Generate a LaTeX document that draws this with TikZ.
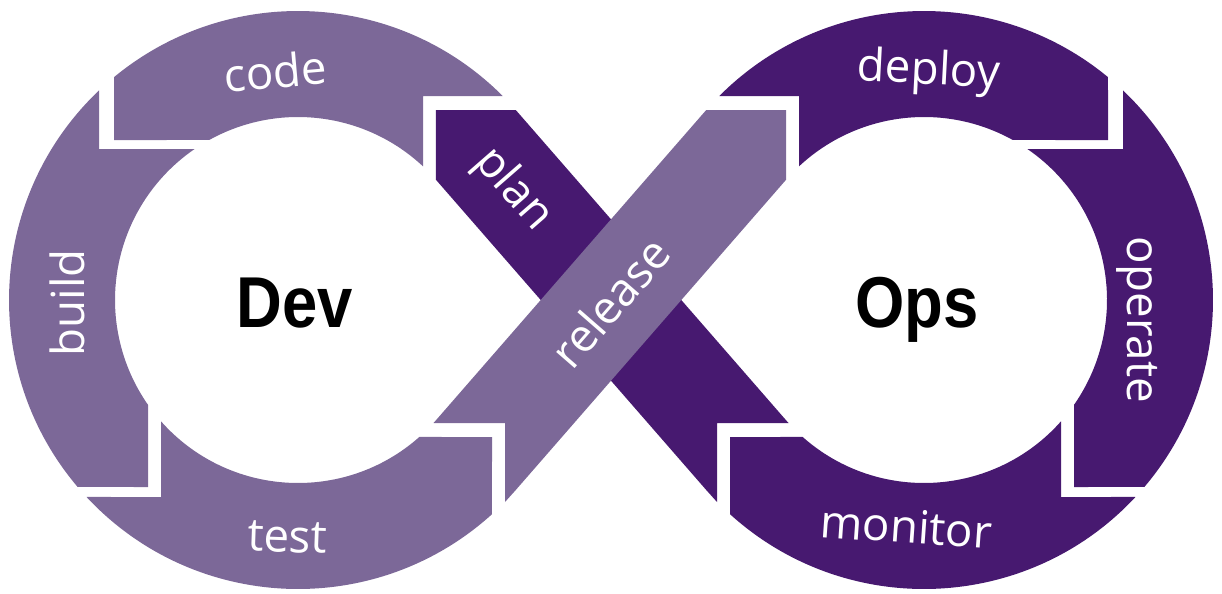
\documentclass[tikz,border=0pt]{standalone}
\usepackage{fontspec}
\setmainfont{Open Sans}
\newfontfamily\headfont{Liberation Sans}
\usetikzlibrary{calc}
\definecolor{devpurple}{RGB}{124,104,152}
\definecolor{opspurple}{RGB}{71,25,112}

\begin{document}
\begin{tikzpicture}[x=0.02cm, y=0.02cm,
        devseg/.style={fill=devpurple},
        opsseg/.style={fill=opspurple},
        stage/.style={text=white, inner sep=0pt, font=\fontsize{26}{30}\selectfont},
        hub/.style={text=black, inner sep=0pt, xscale=.88, font=\headfont\bfseries\fontsize{41}{45}\selectfont}]
            \useasboundingbox (0,0) rectangle (1222,593);
            \coordinate (DevCenter) at (298,293);
            \coordinate (OpsCenter) at (924,293);

            % plan band goes under the release band
            \fill[opsseg] (435.96,482.87) -- (515.88,482.87) -- (786.04,172.77) -- (788.5,170) -- (717,170) -- (717,91) -- (706.12,103.13) -- (435.96,413.23) -- cycle;% plan

            \begin{scope}[shift={(DevCenter)}]
                \fill[devseg] (125,204) -- (44.9:289) arc[start angle=44.9, end angle=129.54, radius=289] -- (-184,160) -- (119.03:183) arc[start angle=119.03, end angle=46.91, radius=183] -- cycle;% code
                \fill[devseg] (-199,151) -- (133.52:289) arc[start angle=133.52, end angle=220.31, radius=289] -- (-150,-187) -- (214.95:183) arc[start angle=214.95, end angle=124.4, radius=183] -- cycle;% build
                \fill[devseg] (-137,-197) -- (222.97:289) arc[start angle=222.97, end angle=312.16, radius=289] -- (194,-137) -- (311.53:183) arc[start angle=311.53, end angle=221.53, radius=183] -- cycle;% test
            \end{scope}

            \begin{scope}[shift={(OpsCenter)}]
                \fill[opsseg] (-125,204) -- (135.1:289) arc[start angle=135.1, end angle=50.46, radius=289] -- (184,160) -- (60.97:183) arc[start angle=60.97, end angle=133.09, radius=183] -- cycle;% deploy
                \fill[opsseg] (199,151) -- (46.48:289) arc[start angle=46.48, end angle=-40.31, radius=289] -- (150,-187) -- (-34.95:183) arc[start angle=-34.95, end angle=55.6, radius=183] -- cycle;% operate
                \fill[opsseg] (137,-197) -- (-42.97:289) arc[start angle=-42.97, end angle=-132.16, radius=289] -- (-194,-137) -- (-131.53:183) arc[start angle=-131.53, end angle=-41.53, radius=183] -- cycle;% monitor
            \end{scope}

            \fill[devseg] (505,170) -- (433.5,170) -- (435.96,172.77) -- (706.12,482.87) -- (786.04,482.87) -- (786.04,413.23) -- (515.88,103.13) -- (505,91) -- cycle;% release

            \node[stage, anchor=base, rotate=5] (CodeLabel) at (277,505) {code};
            \node[stage, anchor=base, rotate=90] (BuildLabel) at (84,290) {build};
            \node[stage, anchor=base, rotate=-2] (TestLabel) at (287,41) {test};
            \node[stage, rotate=-48.94] (PlanLabel) at (513,403) {plan};
            \node[stage, rotate=48.94] (ReleaseLabel) at (610,291) {release};
            \node[stage, anchor=base, rotate=-3] (DeployLabel) at (928,509) {deploy};
            \node[stage, anchor=base, rotate=-90] (OperateLabel) at (1127,273) {operate};
            \node[stage, anchor=base, rotate=-4] (MonitorLabel) at (905,50) {monitor};

            \node[hub, anchor=base] (DevLabel) at (295,266) {Dev};
            \node[hub, anchor=base] (OpsLabel) at (917,266) {Ops};
        \end{tikzpicture}
\end{document}
